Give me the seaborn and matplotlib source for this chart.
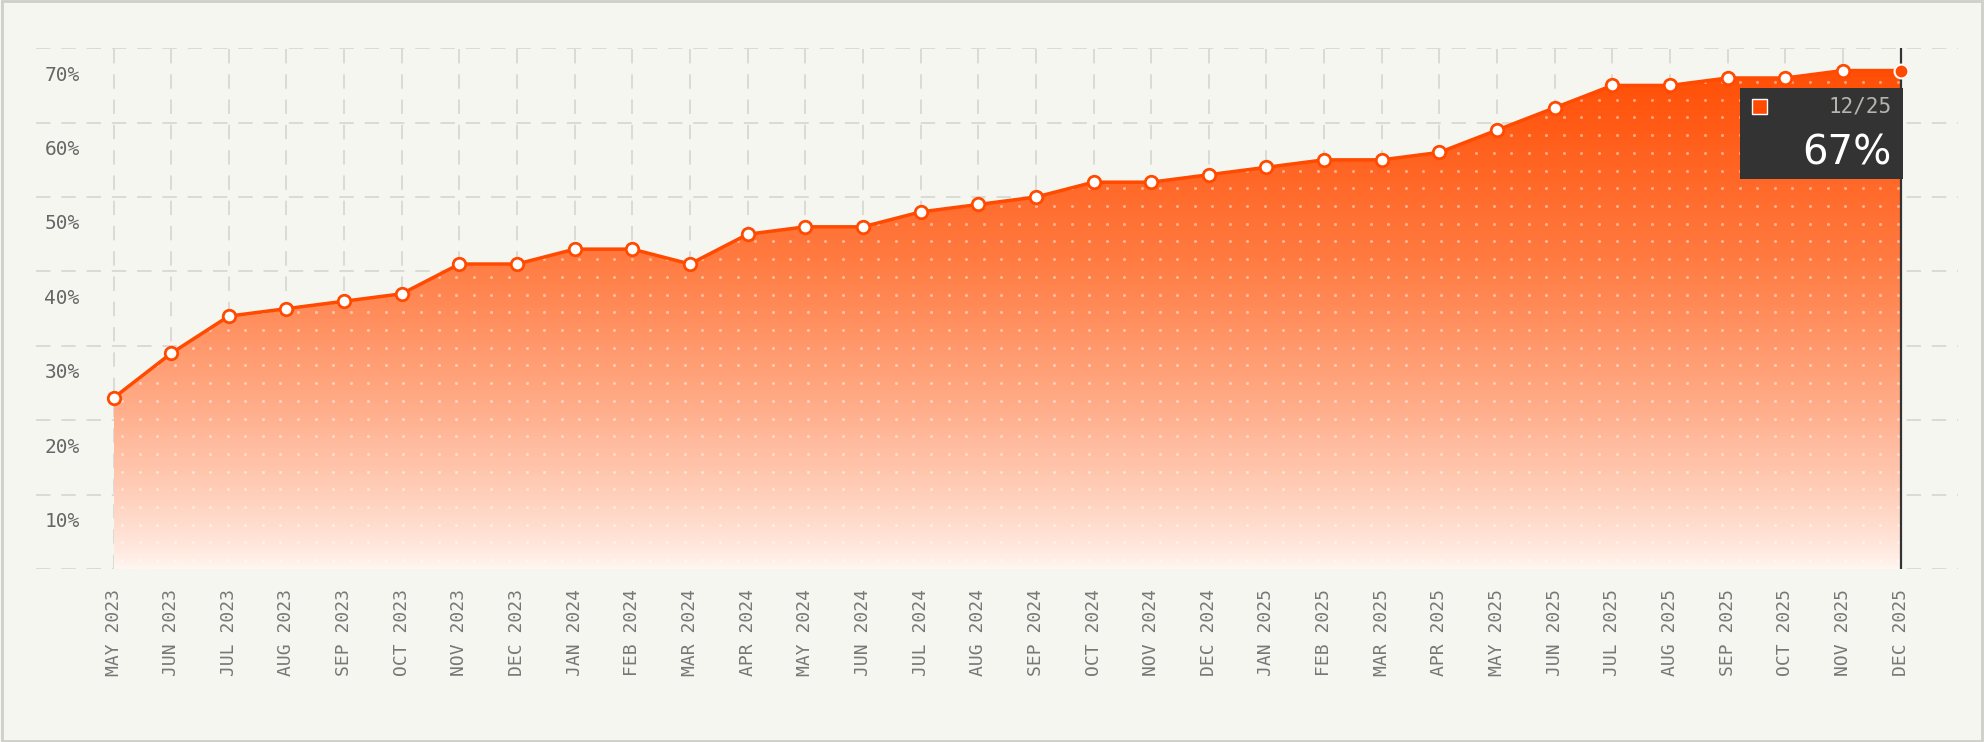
import numpy as np
import pandas as pd
import matplotlib
matplotlib.use("Agg")
import matplotlib.pyplot as plt
import seaborn as sns
from matplotlib.colors import LinearSegmentedColormap
from matplotlib.patches import Rectangle, Polygon

months = ["MAY 2023", "JUN 2023", "JUL 2023", "AUG 2023", "SEP 2023", "OCT 2023", "NOV 2023", "DEC 2023",
          "JAN 2024", "FEB 2024", "MAR 2024", "APR 2024", "MAY 2024", "JUN 2024", "JUL 2024", "AUG 2024",
          "SEP 2024", "OCT 2024", "NOV 2024", "DEC 2024", "JAN 2025", "FEB 2025", "MAR 2025", "APR 2025",
          "MAY 2025", "JUN 2025", "JUL 2025", "AUG 2025", "SEP 2025", "OCT 2025", "NOV 2025", "DEC 2025"]
share = [23, 29, 34, 35, 36, 37, 41, 41, 43, 43, 41, 45, 46, 46, 48, 49,
         50, 52, 52, 53, 54, 55, 55, 56, 59, 62, 65, 65, 66, 66, 67, 67]
yticks = [10, 20, 30, 40, 50, 60, 70]
tip_label = "12/25"
tip_value = "67%"

BG = "#f6f6f1"
ORANGE = "#ff4a00"
GRID = "#d9d9d4"
MONO = ["DejaVu Sans Mono"]

df = pd.DataFrame({"x": np.arange(len(months)), "y": share})

sns.set_theme(style="white")
fig = plt.figure(figsize=(19.84, 7.42), dpi=100, facecolor=BG)
fig.patches.append(Rectangle((0.001, 0.001), 0.998, 0.998, transform=fig.transFigure,
                             fill=False, edgecolor="#cfcfca", linewidth=2))
ax = fig.add_axes([0.018, 0.233, 0.969, 0.702])
ax.set_facecolor(BG)
n = len(months)
ax.set_xlim(-1.35, n - 1 + 1.0)
ax.set_ylim(0, 70)

# grid
for v in range(0, 71, 10):
    ax.axhline(v, color=GRID, lw=1.3, ls=(0, (8, 6)), zorder=0)
for i in range(n):
    ax.axvline(i, color=GRID, lw=1.3, ls=(0, (8, 6)), zorder=0)

# gradient fill clipped to the area
verts = [(0, 0)] + list(zip(df["x"], df["y"])) + [(n - 1, 0)]
poly = Polygon(verts, closed=True, facecolor="none", edgecolor="none")
ax.add_patch(poly)
cmap = LinearSegmentedColormap.from_list("g", ["#fff6f1", "#ffb89a", "#ff7a40", ORANGE])
grad = np.linspace(0, 1, 256).reshape(-1, 1) ** 0.8
im = ax.imshow(grad, cmap=cmap, origin="lower", aspect="auto",
               extent=[0, n - 1, 0, 70], zorder=1)
im.set_clip_path(poly)

# dot texture
gx, gy = np.meshgrid(np.arange(0.15, n - 1, 0.305), np.arange(1.2, 70, 2.38))
dots = ax.scatter(gx.ravel(), gy.ravel(), s=5, color="white", alpha=0.45, lw=0, zorder=2)
dots.set_clip_path(poly)

sns.lineplot(data=df, x="x", y="y", ax=ax, color=ORANGE, lw=2.5, zorder=3,
             marker="o", markersize=9, markerfacecolor="white", markeredgecolor=ORANGE,
             markeredgewidth=2)
ax.plot(df["x"].iloc[-1], df["y"].iloc[-1], "o", ms=10, color=ORANGE,
        mec="white", mew=1.5, zorder=5, clip_on=False)
ax.axvline(n - 1, color="#333333", lw=1.6, zorder=4)

# tooltip
ax.add_patch(Rectangle((n - 1 - 2.78, 52.4), 2.82, 12.2, facecolor="#333333",
                       edgecolor="none", zorder=6))
ax.add_patch(Rectangle((n - 1 - 2.58, 61.2), 0.27, 2.0, facecolor=ORANGE, zorder=7))
ax.text(n - 1 - 0.15, 62.2, tip_label, ha="right", va="center", color="#b5b5b0",
        fontsize=15, family=MONO, zorder=7)
ax.text(n - 1 - 0.15, 55.8, tip_value, ha="right", va="center", color="white",
        fontsize=29, zorder=7)

# y labels sit below their gridlines
for v in yticks:
    ax.text(-1.2, v - 3.6, f"{v}%", ha="left", va="center", color="#666666",
            fontsize=14, family=MONO)

ax.set_xticks(df["x"])
ax.set_xticklabels(months, rotation=90, family=MONO, fontsize=13, color="#777777")
ax.tick_params(axis="x", length=0, pad=14)
ax.set_yticks([])
ax.set_xlabel("")
ax.set_ylabel("")
for s in ax.spines.values():
    s.set_visible(False)

fig.savefig("out.png", dpi=100, facecolor=BG)
